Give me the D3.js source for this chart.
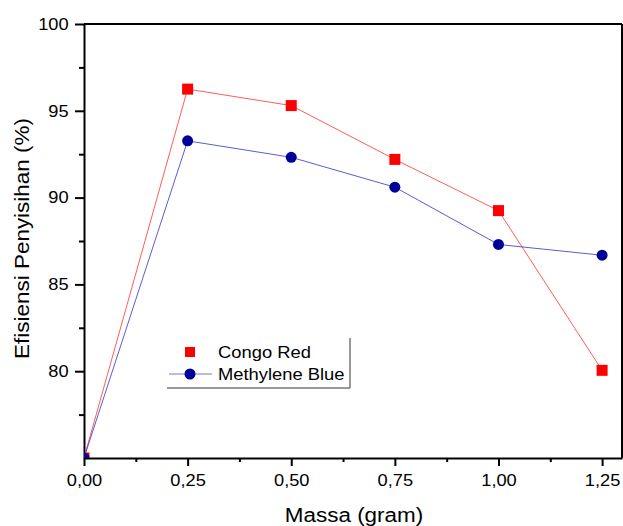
<!DOCTYPE html>
<html>
<head>
<meta charset="UTF-8">
<script src="https://d3js.org/d3.v7.min.js"></script>
<style>
body { margin: 0; background: #fff; }
text { font-family: "Liberation Sans", Arial, sans-serif; fill: #000; }
</style>
</head>
<body>
<div id="chart"></div>
<script>
// data
var massa = [0, 0.25, 0.5, 0.75, 1.0, 1.25];
var congoRed = [75, 96.25, 95.3, 92.2, 89.25, 80.05];
var methyleneBlue = [75, 93.27, 92.32, 90.6, 87.3, 86.68];
var xTicks = [0, 0.25, 0.5, 0.75, 1.0, 1.25];
var yTicks = [80, 85, 90, 95, 100];

var W = 623, H = 526;
var margin = {top: 24, right: 1, bottom: 68, left: 84};
var width = W - margin.left - margin.right,
    height = H - margin.top - margin.bottom;
var stretch = "scale(1.08,1)"; // the original font runs a bit wider than Liberation Sans

var svg = d3.select("#chart").append("svg")
    .attr("width", W).attr("height", H);
var g = svg.append("g")
    .attr("transform", "translate(" + margin.left + "," + margin.top + ")");

var x = d3.scaleLinear().domain([0, 1.298]).range([0, width]);
var y = d3.scaleLinear().domain([75, 100]).range([height, 0]);

var fmt = function(d) { return d3.format(".2f")(d).replace(".", ","); };

// x axis, major + minor ticks
g.append("g").attr("transform", "translate(0," + height + ")")
  .call(d3.axisBottom(x).tickValues(xTicks).tickFormat(fmt).tickSize(8).tickPadding(8).tickSizeOuter(0));
g.append("g").attr("transform", "translate(0," + height + ")")
  .call(d3.axisBottom(x).tickValues([0.125, 0.375, 0.625, 0.875, 1.125]).tickFormat("").tickSize(4).tickSizeOuter(0))
  .select(".domain").remove();

g.append("g")
  .call(d3.axisLeft(y).tickValues(yTicks).tickSize(9).tickPadding(5).tickSizeOuter(0));
g.append("g")
  .call(d3.axisLeft(y).tickValues([77.5, 82.5, 87.5, 92.5, 97.5]).tickFormat("").tickSize(5).tickSizeOuter(0))
  .select(".domain").remove();

svg.selectAll(".tick text")
  .style("font-size", "16.6px")
  .style("font-family", "Liberation Sans, Arial, sans-serif")
  .attr("transform", "scale(1.1,1)");
svg.selectAll(".domain, .tick line").attr("stroke", "#000").attr("stroke-width", 2);

// frame on top and right
g.append("line").attr("x1", 0).attr("x2", width).attr("y1", 0).attr("y2", 0)
  .attr("stroke", "#000").attr("stroke-width", 2);
g.append("line").attr("x1", width).attr("x2", width).attr("y1", 0).attr("y2", height)
  .attr("stroke", "#000").attr("stroke-width", 2);

// axis titles
svg.append("text")
  .attr("transform", "translate(28.5,238.5) rotate(-90) scale(1.07,1)")
  .attr("text-anchor", "middle")
  .style("font-size", "21px")
  .text("Efisiensi Penyisihan (%)");
svg.append("text")
  .attr("transform", "translate(354,522) scale(1.07,1)")
  .attr("text-anchor", "middle")
  .style("font-size", "21px")
  .text("Massa (gram)");

// series
var series = [
  {name: "Congo Red", values: congoRed, line: "#ff4040", fill: "#ff0000", shape: "square"},
  {name: "Methylene Blue", values: methyleneBlue, line: "#4040c8", fill: "#000099", shape: "circle"}
];

g.append("clipPath").attr("id", "clip").append("rect")
  .attr("width", width).attr("height", height);

var line = d3.line()
  .x(function(d) { return x(d[0]); })
  .y(function(d) { return y(d[1]); });

var plot = g.append("g").attr("clip-path", "url(#clip)");

series.forEach(function(s) {
  var pts = massa.map(function(m, i) { return [m, s.values[i]]; });
  plot.append("path").datum(pts)
    .attr("fill", "none").attr("stroke", s.line).attr("stroke-width", 1)
    .attr("stroke-opacity", 0.85)
    .attr("d", line);
  if (s.shape === "square") {
    plot.selectAll(null).data(pts).enter().append("rect")
      .attr("x", function(d) { return x(d[0]) - 5.5; })
      .attr("y", function(d) { return y(d[1]) - 5.5; })
      .attr("width", 11).attr("height", 11)
      .attr("fill", s.fill);
  } else {
    plot.selectAll(null).data(pts).enter().append("circle")
      .attr("cx", function(d) { return x(d[0]); })
      .attr("cy", function(d) { return y(d[1]); })
      .attr("r", 5.5)
      .attr("fill", s.fill);
  }
});

// legend
var lg = svg.append("g");
lg.append("line").attr("x1", 167).attr("x2", 350).attr("y1", 388).attr("y2", 388)
  .attr("stroke", "#777").attr("stroke-width", 1.5);
lg.append("line").attr("x1", 350).attr("x2", 350).attr("y1", 338).attr("y2", 388)
  .attr("stroke", "#777").attr("stroke-width", 1.5);
lg.append("rect").attr("x", 185).attr("y", 347).attr("width", 10).attr("height", 10)
  .attr("fill", "#ff0000");
lg.append("text").attr("transform", "translate(218,358) " + stretch)
  .style("font-size", "17px").text(series[0].name);
lg.append("line").attr("x1", 169).attr("x2", 212).attr("y1", 374).attr("y2", 374)
  .attr("stroke", "#4040c8").attr("stroke-width", 1).attr("stroke-opacity", 0.7);
lg.append("circle").attr("cx", 190).attr("cy", 374).attr("r", 5.5).attr("fill", "#000099");
lg.append("text").attr("transform", "translate(218,380) " + stretch)
  .style("font-size", "17px").text(series[1].name);
</script>
</body>
</html>
